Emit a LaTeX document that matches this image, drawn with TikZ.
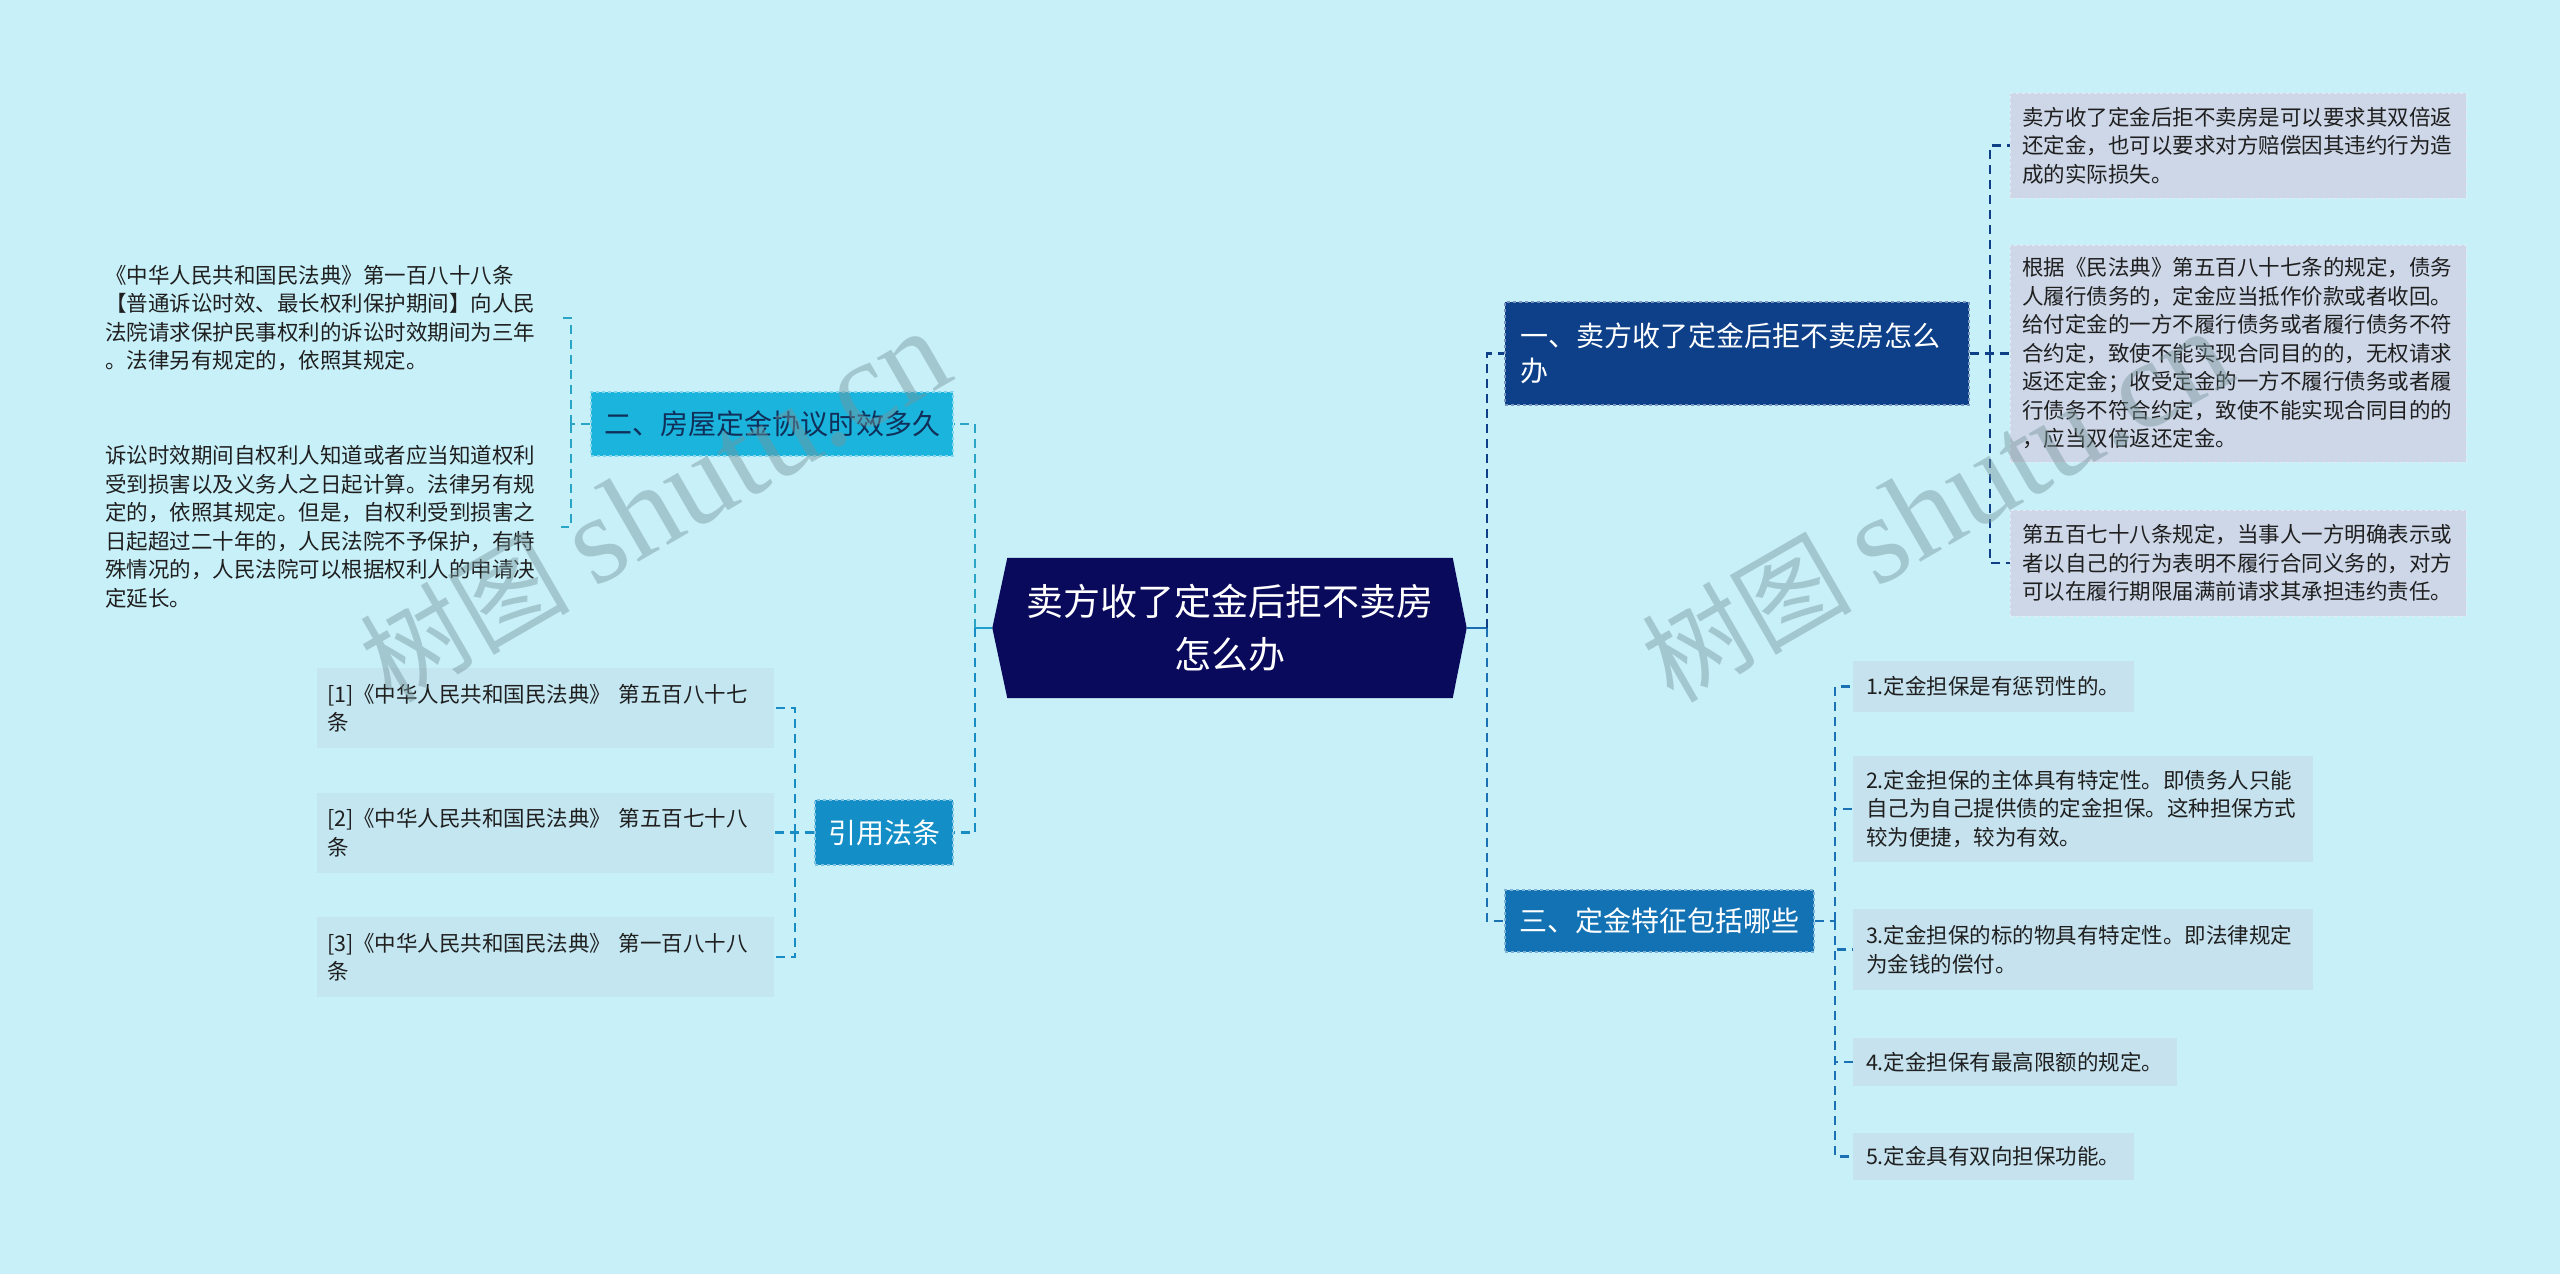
\documentclass[tikz,border=0pt]{standalone}
\usepackage{fontspec}
\setmainfont{Noto Sans CJK SC}
\newfontfamily\wmlat{Liberation Serif}
\usetikzlibrary{calc}
\definecolor{bg}{HTML}{C8F0F8}
\definecolor{cfill}{HTML}{0A0A5C}
\definecolor{b1fill}{HTML}{0D4088}
\definecolor{b3fill}{HTML}{1272B4}
\definecolor{b2fill}{HTML}{1BB4DC}
\definecolor{b4fill}{HTML}{148EC6}
\definecolor{b2text}{HTML}{10305A}
\definecolor{rfill}{HTML}{CDD7E8}
\definecolor{sfill}{HTML}{C5E2EE}
\definecolor{kfill}{HTML}{C3E6F1}
\definecolor{leaftext}{HTML}{1F1F1F}
\definecolor{c1}{HTML}{0F3F87}
\definecolor{c2}{HTML}{2AA5C6}
\definecolor{c3}{HTML}{1A72B4}
\definecolor{c4}{HTML}{1A8CC4}
\definecolor{cLline}{HTML}{1E9FD0}
\definecolor{cRline}{HTML}{1C6CB0}
\definecolor{wm}{HTML}{78969B}
\begin{document}
\begin{tikzpicture}[x=1pt,y=-1pt,
  conn/.style={line width=2.2pt, dash pattern=on 9pt off 6pt},
  solidconn/.style={line width=2.2pt},
  branch/.style={inner ysep=0pt, dashed, line width=1.4pt},
  leaf/.style={font=\fontsize{21.5}{28.5}\selectfont, text=leaftext, align=left, inner ysep=0pt},
  wmark/.style={rotate=30, text=wm, text opacity=0.45, font=\fontsize{105}{110}\selectfont}
]
\useasboundingbox (0,0) rectangle (2560,1274);
\fill[bg] (0,0) rectangle (2560,1274);

% central node
\node[minimum width=445pt, minimum height=140pt, inner sep=0pt] (cbox) at (1230,628) {};
\fill[cfill] (cbox.north west) -- (cbox.north east) -- ($(cbox.east)+(14,0)$) -- (cbox.south east) -- (cbox.south west) -- ($(cbox.west)+(-15,0)$) -- cycle;
\node[font=\fontsize{37}{53}\selectfont, text=white, align=center] (c) at (cbox) {卖方收了定金后拒不卖房\\怎么办};
\coordinate (cL) at ($(cbox.west)+(-15,0)$);
\coordinate (cR) at ($(cbox.east)+(14,0)$);

% branches
\node[branch, fill=b1fill, draw=b1fill!55!white, text=white, minimum height=103pt, text width=434pt, inner xsep=15pt, align=left, font=\fontsize{28}{35}\selectfont] (b1) at (1737,353.5) {一、卖方收了定金后拒不卖房怎么\\办};
\node[branch, fill=b3fill, draw=b3fill!55!white, text=white, minimum width=309pt, minimum height=62pt, inner xsep=0pt, font=\fontsize{28}{35}\selectfont] (b3) at (1659.5,921) {三、定金特征包括哪些};
\node[branch, fill=b2fill, draw=b2fill!55!white, text=b2text, minimum width=362pt, minimum height=64pt, inner xsep=0pt, font=\fontsize{28}{35}\selectfont] (b2) at (772,424) {二、房屋定金协议时效多久};
\node[branch, fill=b4fill, draw=b4fill!55!white, text=white, minimum width=138pt, minimum height=65pt, inner xsep=0pt, font=\fontsize{28}{35}\selectfont] (b4) at (884,832.5) {引用法条};

% right leaves of branch 1
\node[leaf, fill=rfill, draw=rfill!50!white, dashed, line width=1pt, minimum height=105pt, text width=432pt, inner xsep=12pt] (r1) at (2238,145.5) {卖方收了定金后拒不卖房是可以要求其双倍返\\还定金，也可以要求对方赔偿因其违约行为造\\成的实际损失。};
\node[leaf, fill=rfill, draw=rfill!50!white, dashed, line width=1pt, minimum height=217pt, text width=432pt, inner xsep=12pt] (r2) at (2238,353.5) {根据《民法典》第五百八十七条的规定，债务\\人履行债务的，定金应当抵作价款或者收回。\\给付定金的一方不履行债务或者履行债务不符\\合约定，致使不能实现合同目的的，无权请求\\返还定金；收受定金的一方不履行债务或者履\\行债务不符合约定，致使不能实现合同目的的\\，应当双倍返还定金。};
\node[leaf, fill=rfill, draw=rfill!50!white, dashed, line width=1pt, minimum height=106pt, text width=432pt, inner xsep=12pt] (r3) at (2238,563) {第五百七十八条规定，当事人一方明确表示或\\者以自己的行为表明不履行合同义务的，对方\\可以在履行期限届满前请求其承担违约责任。};

% leaves of branch 3
\node[leaf, fill=sfill, minimum height=51pt, text width=255pt, inner xsep=13pt] (s1) at (1993.5,686.5) {1.定金担保是有惩罚性的。};
\node[leaf, fill=sfill, minimum height=106pt, text width=434pt, inner xsep=13pt] (s2) at (2083,809) {2.定金担保的主体具有特定性。即债务人只能\\自己为自己提供债的定金担保。这种担保方式\\较为便捷，较为有效。};
\node[leaf, fill=sfill, minimum height=81pt, text width=434pt, inner xsep=13pt] (s3) at (2083,949.5) {3.定金担保的标的物具有特定性。即法律规定\\为金钱的偿付。};
\node[leaf, fill=sfill, minimum height=48pt, text width=298pt, inner xsep=13pt] (s4) at (2015,1062) {4.定金担保有最高限额的规定。};
\node[leaf, fill=sfill, minimum height=47pt, text width=255pt, inner xsep=13pt] (s5) at (1993.5,1156.5) {5.定金具有双向担保功能。};

% leaves of branch 2
\node[leaf, text width=446pt, inner xsep=10pt, anchor=west] (l1) at (95,318) {《中华人民共和国民法典》第一百八十八条\\【普通诉讼时效、最长权利保护期间】向人民\\法院请求保护民事权利的诉讼时效期间为三年\\。法律另有规定的，依照其规定。};
\node[leaf, text width=446pt, inner xsep=10pt, anchor=west] (l2) at (95,527) {诉讼时效期间自权利人知道或者应当知道权利\\受到损害以及义务人之日起计算。法律另有规\\定的，依照其规定。但是，自权利受到损害之\\日起超过二十年的，人民法院不予保护，有特\\殊情况的，人民法院可以根据权利人的申请决\\定延长。};

% leaves of branch 4
\node[leaf, fill=kfill, minimum height=80pt, text width=437pt, inner xsep=10pt] (k1) at (545.5,708) {[1]《中华人民共和国民法典》 第五百八十七\\条};
\node[leaf, fill=kfill, minimum height=80pt, text width=437pt, inner xsep=10pt] (k2) at (545.5,832.5) {[2]《中华人民共和国民法典》 第五百七十八\\条};
\node[leaf, fill=kfill, minimum height=80pt, text width=437pt, inner xsep=10pt] (k3) at (545.5,957) {[3]《中华人民共和国民法典》 第一百八十八\\条};

% connectors from center
\coordinate (tL) at (975,628);
\coordinate (tR) at (1487,628);
\draw[solidconn, cLline] (cL) -- (tL);
\draw[conn, c2] (tL) |- (b2.east);
\draw[conn, c4] (tL) |- (b4.east);
\draw[solidconn, cRline] (cR) -- (tR);
\draw[conn, c1] (tR) |- (b1.west);
\draw[conn, c3] (tR) |- (b3.west);

% branch 1 leaves
\coordinate (j1) at (1990,353.5);
\draw[conn, c1] (b1.east) -- (r2.west);
\draw[conn, c1] (j1) |- (r1.west);
\draw[conn, c1] (j1) |- (r3.west);

% branch 3 leaves
\coordinate (j3) at (1835,921);
\draw[conn, c3] (b3.east) -- (j3);
\draw[conn, c3] (j3) |- (s1.west);
\draw[conn, c3] (j3) |- (s2.west);
\draw[conn, c3] (j3) |- (s3.west);
\draw[conn, c3] (j3) |- (s4.west);
\draw[conn, c3] (j3) |- (s5.west);

% branch 2 leaves
\coordinate (j2) at (571,424);
\draw[conn, c2] (b2.west) -- (j2);
\draw[conn, c2] (j2) |- (l1.east);
\draw[conn, c2] (j2) |- (l2.east);

% branch 4 leaves
\coordinate (j4) at (795,832.5);
\draw[conn, c4] (b4.west) -- (k2.east);
\draw[conn, c4] (j4) |- (k1.east);
\draw[conn, c4] (j4) |- (k3.east);

% watermarks (semi-transparent, on top)
\node[wmark] (w1) at (655,507) {树图 {\wmlat\fontsize{125}{130}\selectfont shutu.cn}};
\node[wmark] (w2) at (1937,507) {树图 {\wmlat\fontsize{125}{130}\selectfont shutu.cn}};
\end{tikzpicture}
\end{document}
